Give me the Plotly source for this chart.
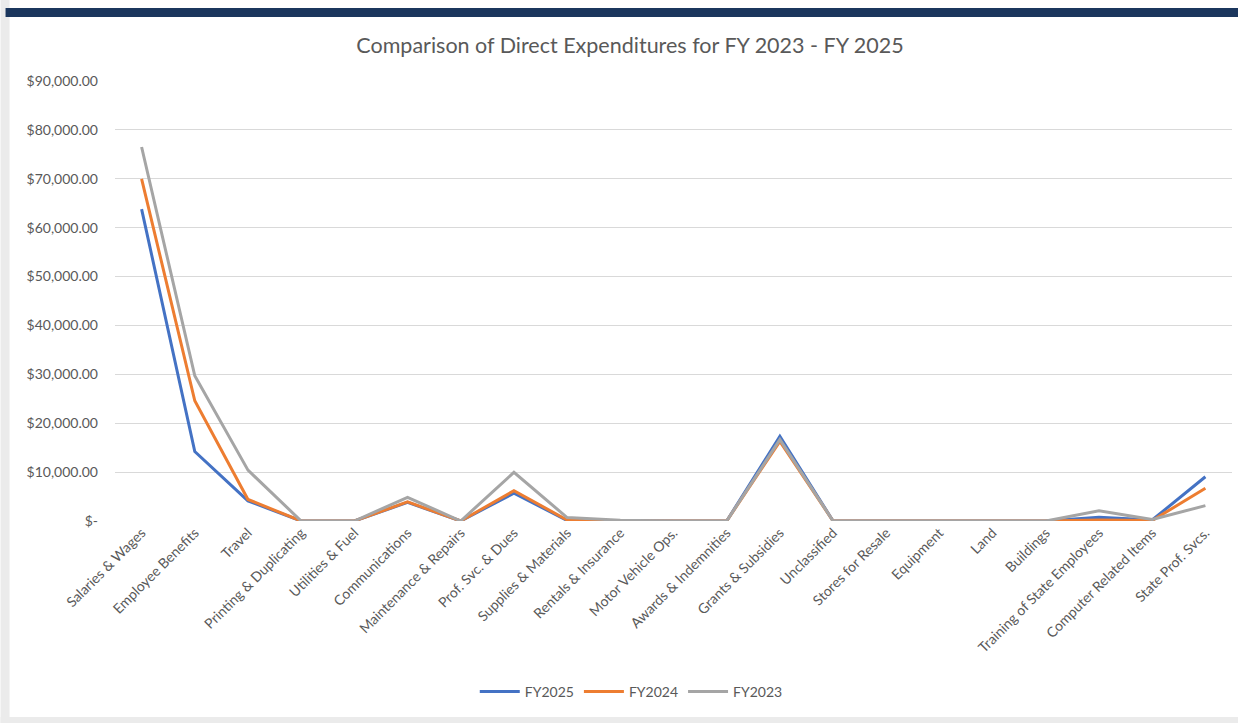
import plotly.graph_objects as go

categories = [
    "Salaries & Wages", "Employee Benefits", "Travel", "Printing & Duplicating",
    "Utilities & Fuel", "Communications", "Maintenance & Repairs", "Prof. Svc. & Dues",
    "Supplies & Materials", "Rentals & Insurance", "Motor Vehicle Ops.",
    "Awards & Indemnities", "Grants & Subsidies", "Unclassified", "Stores for Resale",
    "Equipment", "Land", "Buildings", "Training of State Employees",
    "Computer Related Items", "State Prof. Svcs.",
]

fy2025 = [63800, 14200, 4100, 0, 0, 3800, 0, 5700, 100, 0, 0, 0, 17300, 0, 0, 0, 0, 0, 750, 200, 9050]
fy2024 = [70000, 24600, 4400, 0, 0, 3900, 0, 6200, 200, 0, 0, 0, 16300, 0, 0, 0, 0, 0, 200, 100, 6700]
fy2023 = [76500, 29700, 10400, 0, 0, 4850, 0, 9950, 700, 150, 0, 0, 16650, 0, 0, 0, 0, 0, 2100, 300, 3150]

series_names = ["FY2025", "FY2024", "FY2023"]
series_colors = ["#4472C4", "#ED7D31", "#A5A5A5"]

y_tickvals = [0, 10000, 20000, 30000, 40000, 50000, 60000, 70000, 80000, 90000]
y_ticktext = ["$-", "$10,000.00", "$20,000.00", "$30,000.00", "$40,000.00",
              "$50,000.00", "$60,000.00", "$70,000.00", "$80,000.00", "$90,000.00"]

title_text = "Comparison of Direct Expenditures for FY 2023 - FY 2025"

W, H = 1238, 723
L, R, T, B = 114.5, 1232, 81, 521  # plot area in pixels
FONT = "Lato, 'Open Sans', sans-serif"
GREY_TXT = "#595959"

fig = go.Figure()
for name, vals, col in zip(series_names, [fy2025, fy2024, fy2023], series_colors):
    fig.add_trace(go.Scatter(x=categories, y=vals, name=name, mode="lines",
                             line=dict(color=col, width=3)))

def px_x(p):
    return (p - L) / (R - L)

def px_y(p):
    return (B - p) / (B - T)

shapes = [
    # left light strip
    dict(type="rect", xref="paper", yref="paper", x0=px_x(0), x1=px_x(9),
         y0=px_y(H), y1=px_y(0), fillcolor="#EBEBEB", line=dict(width=0), layer="below"),
    # navy top bar
    dict(type="rect", xref="paper", yref="paper", x0=px_x(5), x1=px_x(W),
         y0=px_y(17), y1=px_y(8), fillcolor="#1B365D", line=dict(width=0), layer="below"),
    # bottom grey strip
    dict(type="rect", xref="paper", yref="paper", x0=px_x(0), x1=px_x(W),
         y0=px_y(H), y1=px_y(717), fillcolor="#EBEBEB", line=dict(width=0), layer="below"),
]

fig.update_layout(
    width=W, height=H,
    margin=dict(l=L, r=W - R, t=T, b=H - B, autoexpand=False),
    paper_bgcolor="white", plot_bgcolor="white",
    font=dict(family=FONT, color=GREY_TXT, size=14),
    title=dict(text=title_text, xref="container", yref="container",
               x=630 / W, y=1 - 45 / H, xanchor="center", yanchor="middle",
               font=dict(family=FONT, size=21.5, color=GREY_TXT)),
    xaxis=dict(showgrid=False, showline=False, ticks="", tickangle=-45,
               tickfont=dict(size=14, color=GREY_TXT), zeroline=False,
               range=[-0.5, len(categories) - 0.5]),
    yaxis=dict(range=[0, 90000], tickvals=y_tickvals, ticktext=y_ticktext,
               showgrid=True, gridcolor="#D9D9D9", gridwidth=1, zeroline=False,
               showline=False, ticks="", ticklabelstandoff=16,
               tickfont=dict(size=14, color=GREY_TXT)),
    legend=dict(orientation="h", x=px_x(631), y=px_y(692), xanchor="center",
                yanchor="middle", font=dict(size=14, color=GREY_TXT),
                itemwidth=40, tracegroupgap=0),
    shapes=shapes,
    showlegend=True,
)

fig.write_html("out.html", config={"displayModeBar": False},
               post_script="document.body.style.margin='0';")
